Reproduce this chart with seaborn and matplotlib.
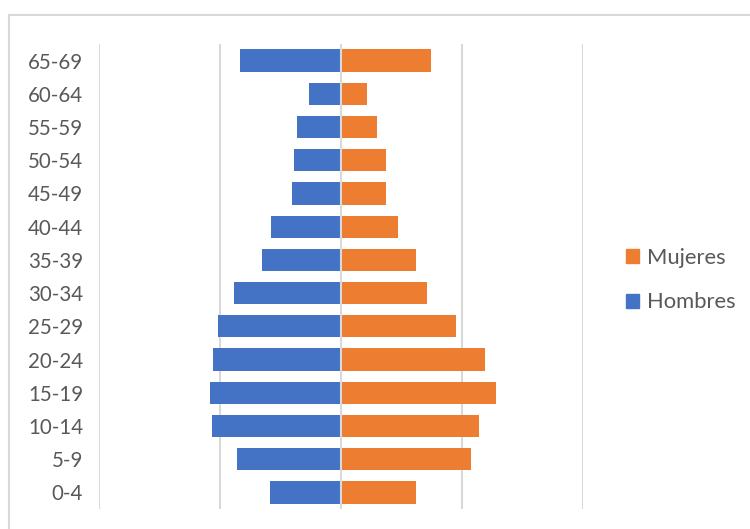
import matplotlib
matplotlib.use("Agg")
import matplotlib.pyplot as plt
import matplotlib.patches as mpatches
import seaborn as sns
import pandas as pd

grupos = ["65-69", "60-64", "55-59", "50-54", "45-49", "40-44", "35-39",
          "30-34", "25-29", "20-24", "15-19", "10-14", "5-9", "0-4"]
hombres = [4.17, 1.32, 1.83, 1.95, 2.01, 2.91, 3.25,
           4.43, 5.07, 5.29, 5.41, 5.33, 4.30, 2.93]
mujeres = [3.72, 1.09, 1.49, 1.86, 1.86, 2.36, 3.11,
           3.57, 4.76, 5.95, 6.40, 5.70, 5.37, 3.10]
xticks = [-10, -5, 0, 5, 10]

c_h = "#4472C4"
c_m = "#ED7D31"
txt = "#595959"
fam = ["Lato", "DejaVu Sans"]

df = pd.concat([
    pd.DataFrame({"grupo": grupos, "valor": [-v for v in hombres], "sexo": "Hombres"}),
    pd.DataFrame({"grupo": grupos, "valor": mujeres, "sexo": "Mujeres"}),
])

sns.set_style("white")
plt.rcParams["font.family"] = fam

fig = plt.figure(figsize=(7.5, 5.29), dpi=100)
ax = fig.add_axes([99 / 750, 1 - 509 / 529, (583 - 99) / 750, (509 - 44) / 529])

sns.barplot(data=df, x="valor", y="grupo", hue="sexo", order=grupos,
            hue_order=["Hombres", "Mujeres"], palette={"Hombres": c_h, "Mujeres": c_m},
            orient="h", dodge=False, width=0.67, ax=ax, legend=False,
            saturation=1, edgecolor="none", linewidth=0, zorder=3)

ax.set_xlim(xticks[0], xticks[-1])
ax.set_xticks(xticks)
ax.set_xticklabels([])
for x in xticks:
    ax.axvline(x, color="#D9D9D9", lw=1.5, zorder=1 if x != 0 else 4)
ax.set_ylim(len(grupos) - 0.5, -0.5)
ax.set_xlabel("")
ax.set_ylabel("")
for s in ax.spines.values():
    s.set_visible(False)
ax.tick_params(axis="y", length=0, pad=11.5, labelsize=14.8, labelcolor=txt)
ax.tick_params(axis="x", length=0)
ax.grid(False)

handles = [mpatches.Patch(color=c_m, label="Mujeres"),
           mpatches.Patch(color=c_h, label="Hombres")]
fig.legend(handles=handles, loc="center left", bbox_to_anchor=(626 / 750, 1 - 280 / 529),
           frameon=False, fontsize=15.8, labelcolor=txt, handlelength=0.6,
           handleheight=0.6, handletextpad=0.35, labelspacing=1.13,
           borderpad=0, borderaxespad=0)

fig.add_artist(mpatches.Rectangle((8.5 / 750, -0.1), 1.2, 1 - 14.5 / 529 + 0.1,
                                  transform=fig.transFigure, fill=False,
                                  edgecolor="#D9D9D9", lw=1.5))

fig.savefig("out.png", dpi=100)
